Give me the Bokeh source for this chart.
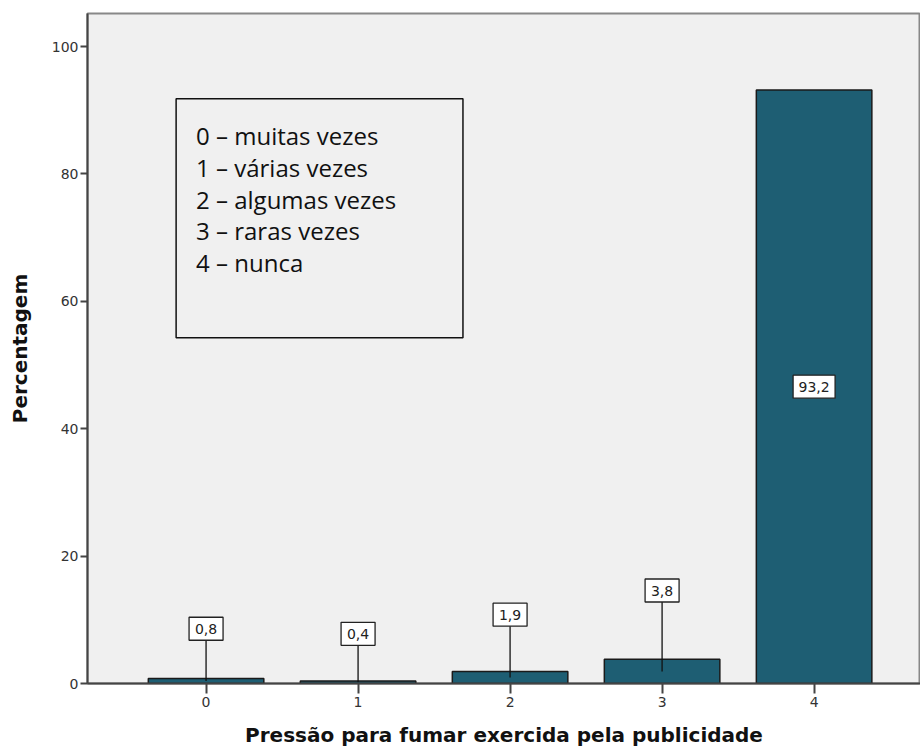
from bokeh.plotting import figure
from bokeh.models import (Range1d, FixedTicker, ColumnDataSource, Label, BoxAnnotation)
from bokeh.core.properties import value
from bokeh.embed import file_html
from bokeh.resources import INLINE

categories = ["0", "1", "2", "3", "4"]
percentages = [0.8, 0.4, 1.9, 3.8, 93.2]
value_labels = ["0,8", "0,4", "1,9", "3,8", "93,2"]
legend_lines = ["0 – muitas vezes", "1 – várias vezes", "2 – algumas vezes",
                "3 – raras vezes", "4 – nunca"]
y_ticks = [0, 20, 40, 60, 80, 100]
x_title = "Pressão para fumar exercida pela publicidade"
y_title = "Percentagem"

xs = list(range(len(categories)))
mids = [v / 2 for v in percentages]
label_y = [v / 2 if v > 10 else 7 + 2 * v for v in percentages]
label_w = [10 + 8 * len(t) for t in value_labels]

p = figure(width=920, height=749, output_backend="svg", toolbar_location=None,
           x_range=Range1d(-0.78, 4.70), y_range=Range1d(0, 105.2),
           min_border_left=87, min_border_top=13, min_border_bottom=66, min_border_right=0)
p.background_fill_color = "#f0f0f0"
p.border_fill_color = "white"
p.outline_line_color = "#888888"
p.outline_line_width = 2
p.grid.visible = False

src = ColumnDataSource(dict(x=xs, top=percentages, ly=label_y, lw=label_w, txt=value_labels))
p.vbar(x="x", top="top", width=0.76, source=src, fill_color="#1e5e73",
       line_color="#1a1a1a", line_width=1.5)

seg_src = ColumnDataSource(dict(x=[x for x, v in zip(xs, percentages) if v <= 10],
                                y0=[m for m, v in zip(mids, percentages) if v <= 10],
                                y1=[l for l, v in zip(label_y, percentages) if v <= 10]))
p.segment(x0="x", y0="y0", x1="x", y1="y1", source=seg_src, line_color="#111111", line_width=1.3)

p.rect(x="x", y="ly", width="lw", height=23, width_units="screen", height_units="screen",
       source=src, fill_color="white", line_color="#222222", line_width=1.3)
p.text(x="x", y="ly", text="txt", source=src, text_align="center", text_baseline="middle",
       text_font=value("DejaVu Sans"), text_font_size="14px", text_color="#222222")

# legend-like text box
box = BoxAnnotation(left=-0.197, right=1.69, bottom=54.3, top=91.8,
                    fill_color="#f0f0f0", fill_alpha=1, line_color="#111111",
                    line_alpha=1, line_width=1.5)
p.add_layout(box)
for i, t in enumerate(legend_lines):
    p.add_layout(Label(x=-0.066, y=86.0 - i * 4.98, text=t, text_font="Open Sans",
                       text_font_size="24px", text_color="#111111", text_baseline="middle"))

p.xaxis.ticker = FixedTicker(ticks=xs)
p.xaxis.major_label_overrides = {x: c for x, c in zip(xs, categories)}
p.yaxis.ticker = FixedTicker(ticks=y_ticks)
p.xaxis.axis_label = x_title
p.yaxis.axis_label = y_title
for ax in (p.xaxis, p.yaxis):
    ax.axis_line_color = "#444444"
    ax.axis_line_width = 2
    ax.major_tick_line_color = "#444444"
    ax.major_tick_line_width = 2
    ax.major_tick_in = 0
    ax.minor_tick_line_color = None
    ax.major_label_text_font = "DejaVu Sans"
    ax.major_label_text_font_size = "14px"
    ax.major_label_text_color = "#333333"
    ax.axis_label_text_font = "DejaVu Sans"
    ax.axis_label_text_font_style = "bold"
    ax.axis_label_text_font_size = "20px"
    ax.axis_label_text_color = "#111111"
p.xaxis.major_tick_out = 10
p.yaxis.major_tick_out = 7
p.xaxis.major_label_standoff = 3
p.yaxis.major_label_standoff = 2
p.xaxis.axis_label_standoff = 13
p.yaxis.axis_label_standoff = 17

open("out.html", "w").write(file_html(p, INLINE))
